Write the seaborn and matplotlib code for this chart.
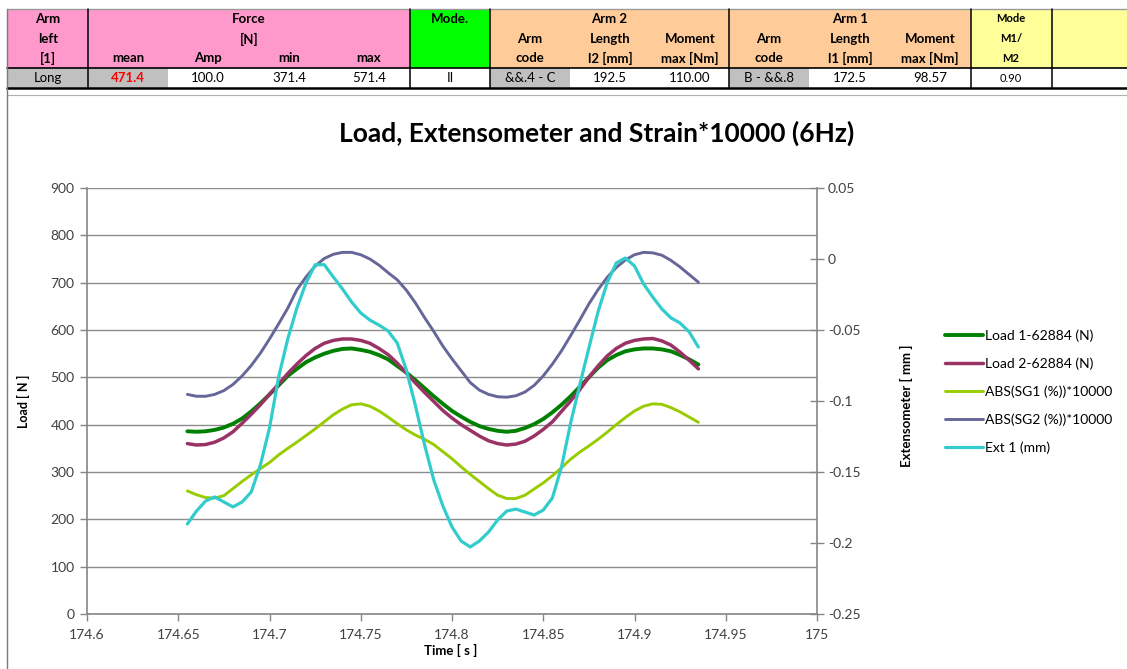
import matplotlib
matplotlib.use("Agg")
import matplotlib.pyplot as plt
import numpy as np
import pandas as pd
import seaborn as sns
from matplotlib.patches import Rectangle
from matplotlib.ticker import MultipleLocator, FuncFormatter

# ---------------- data ----------------
time_s = [174.655, 174.660, 174.665, 174.670, 174.675, 174.680, 174.685, 174.690,
          174.695, 174.700, 174.705, 174.710, 174.715, 174.720, 174.725, 174.730,
          174.735, 174.740, 174.745, 174.750, 174.755, 174.760, 174.765, 174.770,
          174.775, 174.780, 174.785, 174.790, 174.795, 174.800, 174.805, 174.810,
          174.815, 174.820, 174.825, 174.830, 174.835, 174.840, 174.845, 174.850,
          174.855, 174.860, 174.865, 174.870, 174.875, 174.880, 174.885, 174.890,
          174.895, 174.900, 174.905, 174.910, 174.915, 174.920, 174.925, 174.930,
          174.935]

load1_n = [386, 385, 386, 389, 394, 402, 413, 428, 445, 464,
           483, 503, 518, 532, 542, 550, 556, 560, 561, 558,
           554, 547, 538, 524, 510, 494, 477, 460, 444, 429,
           417, 406, 397, 391, 387, 385, 387, 393, 401, 412,
           426, 442, 460, 480, 500, 520, 536, 547, 555, 559,
           561, 561, 559, 555, 547, 538, 527]

load2_n = [360, 357, 358, 363, 372, 385, 403, 422, 442, 464,
           486, 508, 528, 546, 561, 572, 578, 581, 581, 578,
           572, 561, 548, 530, 509, 488, 468, 449, 430, 414,
           400, 388, 376, 366, 360, 357, 359, 365, 376, 390,
           406, 428, 450, 474, 500, 524, 545, 561, 572, 578,
           581, 582, 577, 568, 553, 536, 518]

sg1_x10000 = [260, 252, 246, 245, 250, 265, 280, 294, 307, 320,
              336, 350, 363, 377, 391, 406, 421, 433, 442, 444,
              439, 429, 416, 402, 389, 378, 369, 358, 343, 328,
              311, 295, 280, 265, 251, 244, 244, 251, 264, 277,
              292, 309, 327, 342, 355, 369, 384, 400, 415, 429,
              439, 444, 443, 436, 427, 416, 405]

sg2_x10000 = [464, 460, 460, 464, 472, 485, 503, 525, 551, 581,
              613, 646, 685, 712, 735, 751, 760, 764, 764, 759,
              750, 737, 721, 706, 684, 657, 626, 597, 566, 539,
              514, 489, 473, 464, 459, 458, 461, 469, 483, 503,
              528, 556, 588, 621, 655, 685, 711, 732, 748, 759,
              764, 763, 758, 747, 733, 717, 701]

ext1_mm = [-0.1866, -0.1775, -0.1704, -0.1676, -0.1711, -0.1746, -0.1711, -0.1641, -0.1451, -0.1190,
           -0.0831, -0.0563, -0.0345, -0.0169, -0.0040, -0.0040, -0.0127, -0.0211, -0.0303, -0.0380,
           -0.0430, -0.0465, -0.0507, -0.0592, -0.0782, -0.1035, -0.1310, -0.1556, -0.1739, -0.1887,
           -0.1986, -0.2028, -0.1986, -0.1923, -0.1838, -0.1775, -0.1761, -0.1782, -0.1803, -0.1768,
           -0.1683, -0.1465, -0.1155, -0.0887, -0.0627, -0.0373, -0.0169, -0.0028, 0.0007, -0.0049,
           -0.0176, -0.0268, -0.0352, -0.0415, -0.0451, -0.0514, -0.0620]

series_names = ["Load 1-62884 (N)", "Load 2-62884 (N)", "ABS(SG1 (%))*10000",
                "ABS(SG2 (%))*10000", "Ext 1 (mm)"]
series_colors = ["#008000", "#993366", "#99CC00", "#666699", "#33CCCC"]

# header table content
force_labels = ["mean", "Amp", "min", "max"]
force_values = ["471.4", "100.0", "371.4", "571.4"]
arm_side = "Long"
mode_value = "II"
arm2_values = ["&&.4 - C", "192.5", "110.00"]
arm1_values = ["B - &&.8", "172.5", "98.57"]
ratio_value = "0.90"

# ---------------- style ----------------
sns.set_theme(style="white")
plt.rcParams["font.family"] = ["Lato", "DejaVu Sans"]

W, H = 1127, 669
fig = plt.figure(figsize=(W / 100, H / 100), dpi=100)
fig.patch.set_facecolor("white")

# ---------------- spreadsheet header (pixel coordinates) ----------------
tab = fig.add_axes([0, 0, 1, 1])
tab.set_xlim(0, W)
tab.set_ylim(H, 0)
tab.axis("off")


def cell(x0, y0, x1, y1, color):
    tab.add_patch(Rectangle((x0, y0), x1 - x0, y1 - y0, facecolor=color,
                            edgecolor="none", zorder=1))


def txt(x, y, s, bold=False, size=9.5, color="black"):
    tab.text(x, y, s, ha="center", va="center", fontsize=size, color=color,
             fontweight="bold" if bold else "normal", zorder=3)


top, mid, bot = 9, 68, 88
cell(7, top, 410, mid, "#ff99cc")
cell(410, top, 490, mid, "#00ff00")
cell(490, top, 971, mid, "#ffcc99")
cell(971, top, W, mid, "#ffff99")
for x0, x1 in [(7, 88), (88, 168), (490, 570), (729, 809)]:
    cell(x0, mid, x1, bot, "#c0c0c0")

tab.plot([7, W], [top, top], color="#9a9a9a", lw=1, zorder=2)
tab.plot([7, W], [mid, mid], color="black", lw=1.2, zorder=2)
tab.plot([7, W], [bot, bot], color="black", lw=1.8, zorder=2)
tab.plot([7, W], [95, 95], color="#b0b0b0", lw=0.8, zorder=2)
tab.plot([7, 7], [top, H], color="#7a7a7a", lw=1, zorder=2)
for xv in [88, 410, 490, 729, 971, 1052]:
    tab.plot([xv, xv], [top, bot], color="black", lw=1.1, zorder=2)

r1, r2, r3, r4 = 19, 39, 58, 78
txt(48, r1, "Arm", True); txt(48, r2, "left", True); txt(48, r3, "[1]", True)
txt(48, r4, arm_side)
txt(249, r1, "Force", True); txt(249, r2, "[N]", True)
for xc, lab, val in zip([128, 208, 289, 369], force_labels, force_values):
    txt(xc, r3, lab, True)
    if val == force_values[0]:
        txt(xc, r4, val, True, color="#ff0000")
    else:
        txt(xc, r4, val)
txt(450, r1, "Mode.", True); txt(450, r4, mode_value)
txt(609, r1, "Arm 2", True)
for xc, a, b, val in zip([530, 610, 690], ["Arm", "Length", "Moment"],
                         ["code", "l2 [mm]", "max [Nm]"], arm2_values):
    txt(xc, r2, a, True); txt(xc, r3, b, True); txt(xc, r4, val)
txt(850, r1, "Arm 1", True)
for xc, a, b, val in zip([769, 850, 930], ["Arm", "Length", "Moment"],
                         ["code", "l1 [mm]", "max [Nm]"], arm1_values):
    txt(xc, r2, a, True); txt(xc, r3, b, True); txt(xc, r4, val)
txt(1011, r1, "Mode", True, 8); txt(1011, r2, "M1/", True, 8); txt(1011, r3, "M2", True, 8)
txt(1011, r4, ratio_value, size=8)

# ---------------- chart ----------------
ax = fig.add_axes([87 / W, 1 - 614 / H, 730 / W, 426 / H])
ax.set_facecolor("none")
ax2 = ax.twinx()

df = pd.DataFrame({"time": time_s, series_names[0]: load1_n, series_names[1]: load2_n,
                   series_names[2]: sg1_x10000, series_names[3]: sg2_x10000,
                   series_names[4]: ext1_mm})

widths = [2.8, 2.5, 2.1, 2.1, 2.3]
for name, col, lw in zip(series_names[:4], series_colors[:4], widths[:4]):
    sns.lineplot(data=df, x="time", y=name, ax=ax, color=col, lw=lw,
                 label=name, legend=False)
sns.lineplot(data=df, x="time", y=series_names[4], ax=ax2, color=series_colors[4],
             lw=widths[4], label=series_names[4], legend=False)
for a in (ax, ax2):
    for ln in a.get_lines():
        ln.set_solid_joinstyle("round")
        ln.set_solid_capstyle("round")

spine_col = "#868686"
ax.set_xlim(174.6, 175.0)
ax.set_ylim(0, 900)
ax.xaxis.set_major_locator(MultipleLocator(0.05))
ax.yaxis.set_major_locator(MultipleLocator(100))
ax.xaxis.set_major_formatter(FuncFormatter(lambda v, p: f"{v:g}"))
ax.grid(axis="y", color="#8c8c8c", lw=1)
ax.grid(axis="x", visible=False)
ax.set_axisbelow(True)

ax2.set_ylim(-0.25, 0.05)
ax2.yaxis.set_major_locator(MultipleLocator(0.05))


def ext_fmt(v, p):
    v = round(v, 3)
    return "0" if abs(v) < 1e-9 else f"{v:g}"


ax2.yaxis.set_major_formatter(FuncFormatter(ext_fmt))
ax2.grid(False)

for a in (ax, ax2):
    for s in a.spines.values():
        s.set_visible(False)
ax.spines["left"].set_visible(True)
ax.spines["bottom"].set_visible(True)
ax2.spines["right"].set_visible(True)
for s in (ax.spines["left"], ax.spines["bottom"], ax2.spines["right"]):
    s.set_color(spine_col)
    s.set_linewidth(1.2)

tick_col = "#404040"
ax.tick_params(axis="both", direction="out", length=5, width=1, color=spine_col,
               labelsize=10, labelcolor=tick_col, left=True, bottom=True)
ax.tick_params(axis="y", pad=4)
ax.tick_params(axis="x", pad=6)
ax2.tick_params(axis="y", direction="inout", length=10, width=1, color=spine_col,
                labelsize=10, labelcolor=tick_col, pad=3, right=True)

ax.set_ylabel("Load [ N ]", fontsize=9, fontweight="bold", color="black")
ax.yaxis.set_label_coords((30 - 87) / 730, 0.5)
ax.set_xlabel("Time [ s ]", fontsize=9.5, fontweight="bold", color="black", va="center")
ax.xaxis.set_label_coords(0.4986, (614 - 650) / 426)
ax2.set_ylabel("Extensometer [ mm ]", fontsize=9.5, fontweight="bold", color="black")
ax2.yaxis.set_label_coords((900 - 87) / 730, 0.49)

fig.text(597 / W, 1 - 133 / H, "Load, Extensometer and Strain*10000 (6Hz)",
         ha="center", va="center", fontsize=19, fontweight="bold", color="black")

h1, l1 = ax.get_legend_handles_labels()
h2, l2 = ax2.get_legend_handles_labels()
fig.legend(h1 + h2, l1 + l2, loc="upper left", bbox_to_anchor=(944 / W, 1 - 328 / H),
           frameon=False, fontsize=10, handlelength=2.7, handletextpad=0.15,
           labelspacing=1.12, borderaxespad=0, borderpad=0.1, labelcolor="black")

fig.savefig("out.png", dpi=100, facecolor="white")
